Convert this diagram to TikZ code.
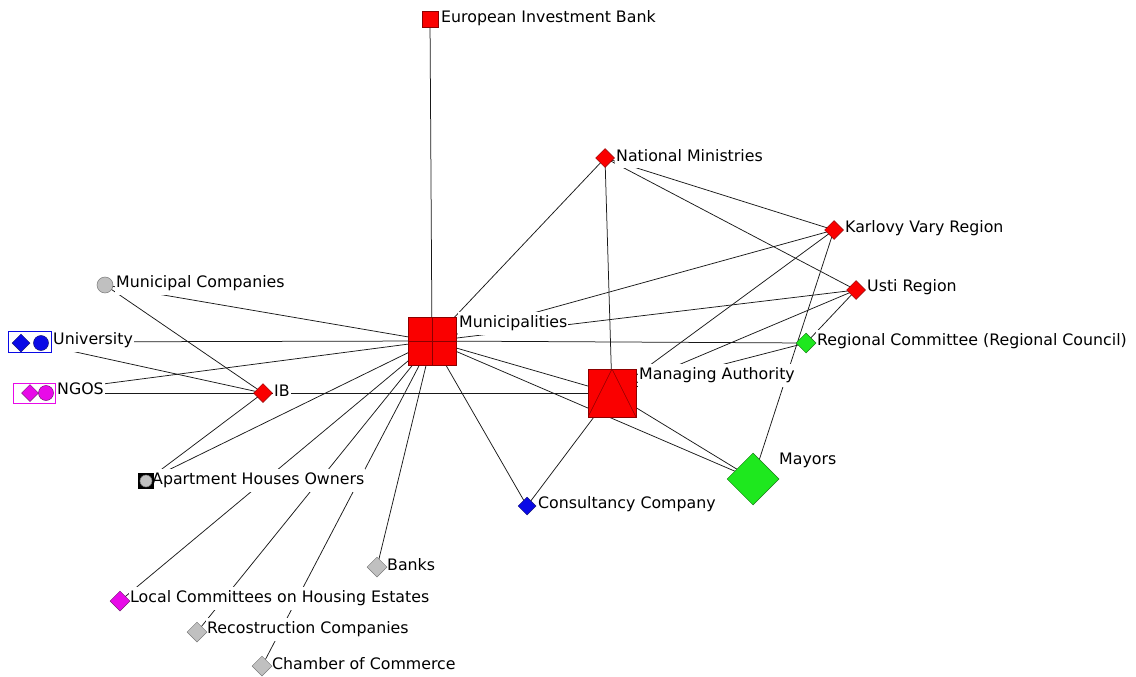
\documentclass[tikz,border=0pt]{standalone}
\usepackage{fontspec}
\setmainfont{DejaVu Sans}
\usetikzlibrary{shapes.geometric}
\pgfdeclarelayer{edges}
\pgfdeclarelayer{labels}
\pgfsetlayers{edges,labels,main}

\definecolor{nred}{RGB}{250,0,0}
\definecolor{nredline}{RGB}{140,0,0}
\definecolor{ngreen}{RGB}{30,232,30}
\definecolor{ngreenline}{RGB}{20,120,20}
\definecolor{nblue}{RGB}{10,10,230}
\definecolor{nbluel}{RGB}{20,20,120}
\definecolor{nmag}{RGB}{232,10,232}
\definecolor{nmagl}{RGB}{120,20,120}
\definecolor{ngray}{RGB}{192,192,192}
\definecolor{ngrayline}{RGB}{120,120,120}
\definecolor{edgecol}{RGB}{25,25,25}

\tikzset{
  sq/.style={rectangle, draw=nredline, fill=nred, inner sep=0pt, minimum size=#1, line width=0.6pt},
  dia/.style={diamond, inner sep=0pt, minimum size=#1, line width=0.5pt},
  rdia/.style={dia=#1, fill=nred, draw=nredline},
  gdia/.style={dia=#1, fill=ngreen, draw=ngreenline},
  bdia/.style={dia=#1, fill=nblue, draw=nbluel},
  mdia/.style={dia=#1, fill=nmag, draw=nmagl},
  grdia/.style={dia=#1, fill=ngray, draw=ngrayline},
  dot/.style={circle, inner sep=0pt, minimum size=#1, line width=0.5pt},
  lab/.style={anchor=west, fill=white, inner sep=1pt, minimum height=23pt,
    font=\fontsize{15.8}{18}\selectfont, text=black},
  ed/.style={draw=edgecol, line width=0.75pt},
}

\begin{document}
\begin{tikzpicture}[x=1pt,y=-1pt]
\useasboundingbox (0,0) rectangle (1136,677);

% actors
\node[sq=16] (eib) at (430,19) {};
\node[sq=48, path picture={\draw[nredline, line width=0.6pt]
   (path picture bounding box.north) -- (path picture bounding box.south)
   (path picture bounding box.west) -- (path picture bounding box.east);}] (mun) at (432,341) {};
\node[sq=48, path picture={\draw[nredline, line width=0.6pt]
   (path picture bounding box.south west) -- (path picture bounding box.north)
   -- (path picture bounding box.south east);}] (ma) at (612,393) {};

\node[rdia=19] (nm) at (605,158) {};
\node[rdia=19] (kv) at (834,230) {};
\node[rdia=19] (us) at (856,290) {};
\node[rdia=19] (ib) at (263,393) {};
\node[gdia=20] (rc) at (806,343) {};
\node[gdia=52] (may) at (753,479) {};
\node[bdia=18] (cons) at (527,506) {};
\node[grdia=20] (bk) at (377,567) {};
\node[mdia=20] (lc) at (120,601) {};
\node[grdia=20] (rec) at (197,632) {};
\node[grdia=20] (cc) at (262,666) {};

\node[dot=16, fill=ngray, draw=ngrayline] (mc) at (105,285) {};

\node[rectangle, fill=black, inner sep=0pt, minimum size=16] (aho) at (146,481) {};
\node[dot=12, fill=ngray, draw=ngrayline] (aho-c) at (146,481) {};

% grouped actors
\node[rectangle, draw=nblue, fill=white, inner sep=0pt, minimum width=43, minimum height=21, line width=0.6pt] (uni) at (30,342) {};
\node[bdia=18] (uni-d) at (21,343) {};
\node[dot=15, fill=nblue, draw=nbluel] (uni-c) at (41,343) {};

\node[rectangle, draw=nmag, fill=white, inner sep=0pt, minimum width=42, minimum height=20, line width=0.6pt] (ngo) at (34,393) {};
\node[mdia=17] (ngo-d) at (30,393) {};
\node[dot=15, fill=nmag, draw=nmagl] (ngo-c) at (46,393) {};

% labels
\begin{pgfonlayer}{labels}
\node[lab] (eib-l) at (440,18) {European Investment Bank};
\node[lab] (nm-l) at (615,156) {National Ministries};
\node[lab] (kv-l) at (844,228) {Karlovy Vary Region};
\node[lab] (us-l) at (866,287) {Usti Region};
\node[lab] (rc-l) at (816,341) {Regional Committee (Regional Council)};
\node[lab] (mun-l) at (458,323) {Municipalities};
\node[lab] (ma-l) at (638,375) {Managing Authority};
\node[lab] (may-l) at (778,460) {Mayors};
\node[lab] (cons-l) at (537,504) {Consultancy Company};
\node[lab] (ib-l) at (273,391) {IB};
\node[lab] (mc-l) at (115,283) {Municipal Companies};
\node[lab] (uni-l) at (52,340) {University};
\node[lab] (ngo-l) at (56,389) {NGOS};
\node[lab] (aho-l) at (151,480) {Apartment Houses Owners};
\node[lab] (bk-l) at (386,565) {Banks};
\node[lab] (lc-l) at (129,598) {Local Committees on Housing Estates};
\node[lab] (rec-l) at (206,629) {Recostruction Companies};
\node[lab] (cc-l) at (271,664) {Chamber of Commerce};
\end{pgfonlayer}

% ties
\begin{pgfonlayer}{edges}
\draw[ed] (eib.center) -- (mun.center);
\draw[ed] (nm.center) -- (mun.center);
\draw[ed] (nm.center) -- (ma.center);
\draw[ed] (nm.center) -- (kv.center);
\draw[ed] (nm.center) -- (us.center);
\draw[ed] (kv.center) -- (mun.center);
\draw[ed] (us.center) -- (mun.center);
\draw[ed] (kv.center) -- (ma.center);
\draw[ed] (us.center) -- (ma.center);
\draw[ed] (rc.center) -- (ma.center);
\draw[ed] (kv.center) -- (may.center);
\draw[ed] (us.center) -- (rc.center);
\draw[ed] (mun.center) -- (rc.center);
\draw[ed] (uni.center) -- (mun.center);
\draw[ed] (mun.center) -- (may.center);
\draw[ed] (ma.center) -- (may.center);
\draw[ed] (mun.center) -- (ma.center);
\draw[ed] (ib.center) -- (ma.center);
\draw[ed] (ngo.center) -- (ib.center);
\draw[ed] (uni.center) -- (ib.center);
\draw[ed] (mc.center) -- (ib.center);
\draw[ed] (mc.center) -- (mun.center);
\draw[ed] (ngo.center) -- (mun.center);
\draw[ed] (aho.center) -- (ib.center);
\draw[ed] (aho.center) -- (mun.center);
\draw[ed] (mun.center) -- (lc.center);
\draw[ed] (mun.center) -- (rec.center);
\draw[ed] (mun.center) -- (cc.center);
\draw[ed] (mun.center) -- (bk.center);
\draw[ed] (mun.center) -- (cons.center);
\draw[ed] (ma.center) -- (cons.center);
\end{pgfonlayer}
\end{tikzpicture}
\end{document}
